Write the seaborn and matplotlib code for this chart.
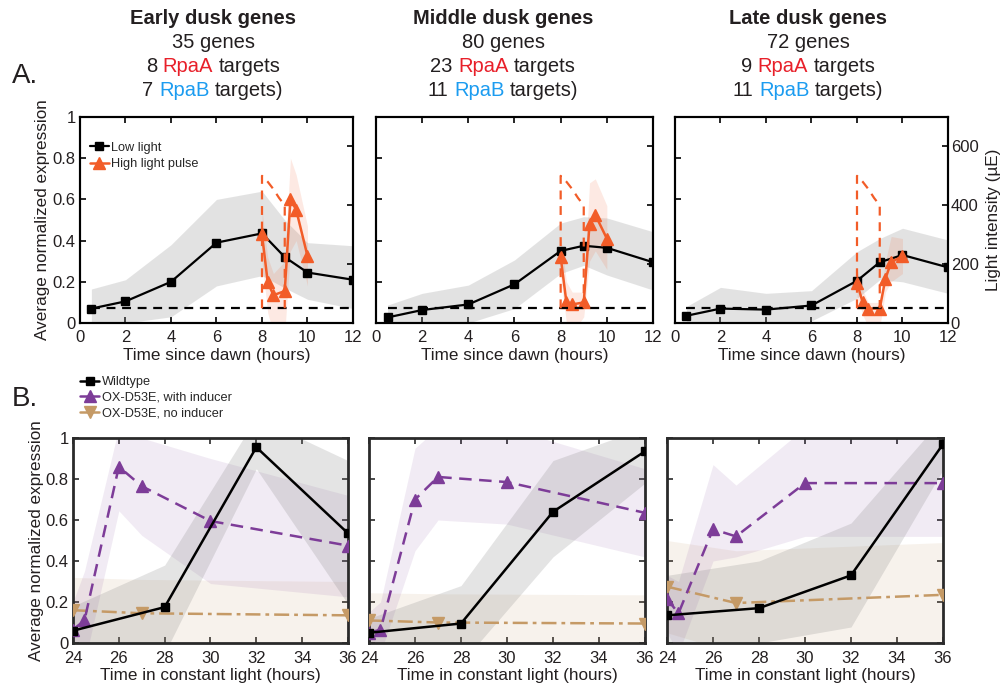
import numpy as np
import pandas as pd
import matplotlib
matplotlib.use("Agg")
import matplotlib.pyplot as plt
import seaborn as sns
from matplotlib.lines import Line2D
from matplotlib.offsetbox import TextArea, HPacker, AnnotationBbox
from matplotlib.ticker import FuncFormatter

sns.set_theme(style="white")
FONT = ["Liberation Sans", "DejaVu Sans"]
plt.rcParams["font.family"] = FONT

# ---------------- Panel A: dusk gene clusters, low light vs high light pulse
low_t = [0.5, 2, 4, 6, 8, 9, 10, 12]
pulse_t = [8, 8.25, 8.5, 9, 9.25, 9.5, 10]

early_low = [0.07, 0.105, 0.20, 0.39, 0.435, 0.32, 0.245, 0.21]
early_low_hi = [0.165, 0.21, 0.38, 0.60, 0.64, 0.50, 0.39, 0.375]
early_low_lo = [-0.02, 0.0, 0.03, 0.18, 0.23, 0.17, 0.115, 0.07]
early_pulse = [0.43, 0.20, 0.135, 0.155, 0.60, 0.55, 0.325]
early_pulse_hi = [0.55, 0.32, 0.24, 0.30, 0.80, 0.72, 0.47]
early_pulse_lo = [0.30, 0.05, -0.05, -0.05, 0.35, 0.40, 0.18]

middle_low = [0.027, 0.063, 0.09, 0.188, 0.35, 0.375, 0.365, 0.295]
middle_low_hi = [0.087, 0.144, 0.184, 0.306, 0.485, 0.516, 0.51, 0.443]
middle_low_lo = [-0.02, -0.01, 0.0, 0.07, 0.24, 0.28, 0.233, 0.16]
middle_pulse = [0.32, 0.10, 0.09, 0.10, 0.48, 0.525, 0.41]
middle_pulse_hi = [0.42, 0.20, 0.15, 0.15, 0.68, 0.70, 0.57]
middle_pulse_lo = [0.22, 0.0, -0.05, 0.03, 0.30, 0.35, 0.26]

late_low = [0.035, 0.07, 0.065, 0.085, 0.205, 0.295, 0.33, 0.27]
late_low_hi = [0.08, 0.173, 0.144, 0.157, 0.346, 0.41, 0.46, 0.403]
late_low_lo = [-0.01, -0.03, -0.02, 0.01, 0.12, 0.21, 0.20, 0.144]
late_pulse = [0.195, 0.10, 0.07, 0.07, 0.215, 0.295, 0.325]
late_pulse_hi = [0.26, 0.16, 0.10, 0.10, 0.30, 0.42, 0.41]
late_pulse_lo = [0.13, 0.04, -0.02, -0.02, 0.15, 0.20, 0.24]

# light regime (µE)
light_low_t = [0.5, 12]
light_low = [50, 50]
light_pulse_t = [8, 8, 8.25, 8.5, 8.75, 9, 9]
light_pulse = [50, 500, 480, 455, 425, 400, 50]

cluster_names = ["Early dusk genes", "Middle dusk genes", "Late dusk genes"]
cluster_sizes = [35, 80, 72]
rpaa_targets = [8, 23, 9]
rpab_targets = [7, 11, 11]

# ---------------- Panel B: constant light, OX-D53E
wt_t = [24, 28, 32, 36]
ind_t = [24, 24.5, 26, 27, 30, 36]
noind_t = [24, 27, 36]

b_wt = [[0.06, 0.175, 0.955, 0.535], [0.05, 0.095, 0.64, 0.935], [0.135, 0.17, 0.33, 0.97]]
b_wt_hi = [[0.18, 0.38, 1.10, 0.89], [0.12, 0.28, 0.89, 1.05], [0.33, 0.40, 0.585, 1.10]]
b_wt_lo = [[-0.05, -0.05, 0.85, 0.19], [-0.02, -0.10, 0.42, 0.78], [-0.02, 0.0, 0.078, 0.845]]

b_ind = [[0.065, 0.11, 0.86, 0.765, 0.595, 0.475],
         [0.05, 0.065, 0.70, 0.81, 0.785, 0.635],
         [0.215, 0.145, 0.555, 0.52, 0.78, 0.78]]
b_ind_hi = [[0.20, 0.35, 1.05, 1.0, 0.90, 0.72],
            [0.15, 0.20, 0.95, 1.05, 1.05, 0.85],
            [0.33, 0.30, 0.87, 0.77, 1.05, 1.05]]
b_ind_lo = [[-0.05, -0.10, 0.645, 0.525, 0.29, 0.225],
            [-0.05, -0.05, 0.45, 0.60, 0.58, 0.42],
            [0.05, -0.05, 0.40, 0.42, 0.52, 0.52]]

b_noind = [[0.16, 0.145, 0.135], [0.11, 0.10, 0.095], [0.275, 0.195, 0.235]]
b_noind_hi = [[0.32, 0.31, 0.30], [0.245, 0.24, 0.235], [0.50, 0.45, 0.49]]
b_noind_lo = [[-0.02, -0.02, -0.03], [-0.03, -0.03, -0.04], [0.05, -0.05, -0.02]]

# ---------------- styling
BLACK = "#000000"
ORANGE = "#F25C28"
PURPLE = "#7D3C98"
TAN = "#C59A66"
RED = "#E8202A"
BLUE = "#1C9CF0"
TXT = "#231F20"
FS_TICK = 12
FS_LABEL = 12.3

fig = plt.figure(figsize=(10.03, 6.90), dpi=100)
W, H = 1003.0, 690.0


def axes_px(l, t, r, b):
    return fig.add_axes([l / W, 1 - b / H, (r - l) / W, (b - t) / H])


def yfmt(v, _):
    return f"{v:g}"


def style_spines(ax, color, lw=1.5):
    for s in ax.spines.values():
        s.set_visible(True)
        s.set_color(color)
        s.set_linewidth(lw)


def draw_line(ax, x, y, color, marker, ms, ls="-", lw=1.6, z=3):
    df = pd.DataFrame({"x": x, "y": y})
    sns.lineplot(data=df, x="x", y="y", ax=ax, color=color, marker=marker,
                 markersize=ms, markeredgecolor=color, markerfacecolor=color,
                 markeredgewidth=1, linewidth=lw, linestyle=ls,
                 estimator=None, sort=False, zorder=z)


def colored_line(x_px, y_px, parts, size, weight="normal"):
    boxes = [TextArea(t, textprops=dict(color=c, fontsize=size,
                                        fontweight=weight, family=FONT))
             for t, c in parts]
    pack = HPacker(children=boxes, align="baseline", pad=0, sep=size * 0.278)
    ab = AnnotationBbox(pack, (x_px / W, 1 - y_px / H), xycoords="figure fraction",
                        frameon=False, box_alignment=(0.5, 0.5), pad=0)
    fig.add_artist(ab)


top_boxes = [(80, 117, 353, 323), (376, 117, 653, 323), (675, 117, 948, 323)]
title_x = [213, 503, 808]
low_sets = [(early_low, early_low_hi, early_low_lo),
            (middle_low, middle_low_hi, middle_low_lo),
            (late_low, late_low_hi, late_low_lo)]
pulse_sets = [(early_pulse, early_pulse_hi, early_pulse_lo),
              (middle_pulse, middle_pulse_hi, middle_pulse_lo),
              (late_pulse, late_pulse_hi, late_pulse_lo)]

for i, box in enumerate(top_boxes):
    ax = axes_px(*box)
    ax.set_facecolor("white")
    m, hi, lo = low_sets[i]
    ax.fill_between(low_t, lo, hi, color="#9a9a9a", alpha=0.28, lw=0, zorder=1)
    draw_line(ax, low_t, m, BLACK, "s", 6, lw=1.6, z=3)
    pm, phi, plo = pulse_sets[i]
    ax.fill_between(pulse_t, plo, phi, color=ORANGE, alpha=0.13, lw=0, zorder=2)
    draw_line(ax, pulse_t, pm, ORANGE, "^", 8, lw=1.8, z=4)

    ax.set_xlim(0, 12)
    ax.set_ylim(0, 1)
    ax.set_xticks(range(0, 13, 2))
    ax.set_yticks(np.arange(0, 1.01, 0.2))
    ax.yaxis.set_major_formatter(FuncFormatter(yfmt))
    ax.tick_params(direction="in", length=4, width=1.2, colors=BLACK,
                   labelcolor=TXT, labelsize=FS_TICK, pad=3,
                   top=True, bottom=True, left=True, right=False)
    ax.tick_params(axis="x", pad=5)
    ax.set_xlabel("Time since dawn (hours)", fontsize=FS_LABEL, color=TXT, labelpad=2)
    if i == 0:
        ax.set_ylabel("Average normalized expression", fontsize=FS_LABEL, color=TXT, labelpad=2)
    else:
        ax.set_ylabel("")
        ax.set_yticklabels([])
    style_spines(ax, BLACK)

    ax2 = ax.twinx()
    ax2.set_ylim(0, 700)
    draw_line(ax2, light_low_t, light_low, BLACK, None, 0, ls=(0, (4, 3)), lw=1.6, z=2)
    draw_line(ax2, light_pulse_t, light_pulse, ORANGE, None, 0, ls=(0, (4, 3)), lw=1.6, z=2)
    ax2.set_yticks([0, 200, 400, 600])
    ax2.tick_params(direction="in", length=4, width=1.2, colors=BLACK,
                    labelcolor=TXT, labelsize=FS_TICK, pad=2, right=True, left=False)
    ax2.set_xlabel("")
    if i == 2:
        ax2.set_ylabel("Light intensity (µE)", fontsize=FS_LABEL, color=TXT, labelpad=5)
        for lab in ax2.get_yticklabels():
            lab.set_verticalalignment("center_baseline")
    else:
        ax2.set_ylabel("")
        ax2.set_yticklabels([])
    style_spines(ax2, BLACK)
    ax2.set_xlim(0, 12)

    if i == 0:
        handles = [Line2D([], [], color=BLACK, marker="s", ms=6, lw=1.6),
                   Line2D([], [], color=ORANGE, marker="^", ms=8, lw=1.8)]
        ax2.legend(handles, ["Low light", "High light pulse"], loc="upper left",
                   bbox_to_anchor=(0.035, 0.88), frameon=False, fontsize=9.2,
                   handlelength=1.5, handletextpad=0.2, borderaxespad=0,
                   borderpad=0, labelspacing=0.35)

    tx = title_x[i]
    colored_line(tx, 18, [(cluster_names[i], TXT)], 14.5, weight="bold")
    colored_line(tx, 42, [(f"{cluster_sizes[i]} genes", TXT)], 14.5)
    colored_line(tx, 67, [(str(rpaa_targets[i]), TXT), ("RpaA", RED), ("targets", TXT)], 14.5)
    colored_line(tx, 91, [(str(rpab_targets[i]), TXT), ("RpaB", BLUE), ("targets)", TXT)], 14.5)

fig.text(12 / W, 1 - 76 / H, "A.", fontsize=20, color=TXT, va="center", ha="left")
fig.text(12 / W, 1 - 399 / H, "B.", fontsize=20, color=TXT, va="center", ha="left")

bottom_boxes = [(73, 438, 348, 643), (369, 438, 645, 643), (667, 438, 943, 643)]
SPINE_B = "#2A2A2A"
for i, box in enumerate(bottom_boxes):
    ax = axes_px(*box)
    ax.set_facecolor("white")
    ax.fill_between(noind_t, b_noind_lo[i], b_noind_hi[i], color=TAN, alpha=0.12, lw=0, zorder=1)
    ax.fill_between(ind_t, b_ind_lo[i], b_ind_hi[i], color=PURPLE, alpha=0.10, lw=0, zorder=1)
    ax.fill_between(wt_t, b_wt_lo[i], b_wt_hi[i], color="#7a7a7a", alpha=0.20, lw=0, zorder=1)
    draw_line(ax, noind_t, b_noind[i], TAN, "v", 8.5, ls=(0, (6, 2, 1.5, 2)), lw=1.8, z=3)
    draw_line(ax, ind_t, b_ind[i], PURPLE, "^", 8.5, ls=(0, (5, 3)), lw=1.8, z=4)
    draw_line(ax, wt_t, b_wt[i], BLACK, "s", 5.5, lw=1.8, z=5)

    ax.set_xlim(24, 36)
    ax.set_ylim(0, 1)
    ax.set_xticks(range(24, 37, 2))
    ax.set_yticks(np.arange(0, 1.01, 0.2))
    ax.yaxis.set_major_formatter(FuncFormatter(yfmt))
    ax.tick_params(direction="in", length=4, width=1.2, colors=SPINE_B,
                   labelcolor=TXT, labelsize=FS_TICK, pad=3,
                   top=True, bottom=True, left=True, right=True)
    ax.tick_params(axis="x", pad=6)
    ax.set_xlabel("Time in constant light (hours)", fontsize=FS_LABEL, color=TXT, labelpad=1)
    if i == 0:
        ax.set_ylabel("Average normalized expression", fontsize=FS_LABEL, color=TXT, labelpad=1)
    else:
        ax.set_ylabel("")
        ax.set_yticklabels([])
    style_spines(ax, SPINE_B, lw=2.0)

handles_b = [Line2D([], [], color=BLACK, marker="s", ms=6, lw=1.8),
             Line2D([], [], color=PURPLE, marker="^", ms=9, lw=1.8),
             Line2D([], [], color=TAN, marker="v", ms=9, lw=1.8)]
fig.legend(handles_b, ["Wildtype", "OX-D53E, with inducer", "OX-D53E, no inducer"],
           loc="upper left", bbox_to_anchor=(80 / W, 1 - 376 / H), frameon=False,
           fontsize=9.2, handlelength=1.5, handletextpad=0.25, borderaxespad=0,
           borderpad=0, labelspacing=0.3)

fig.savefig("out.png", dpi=100)
